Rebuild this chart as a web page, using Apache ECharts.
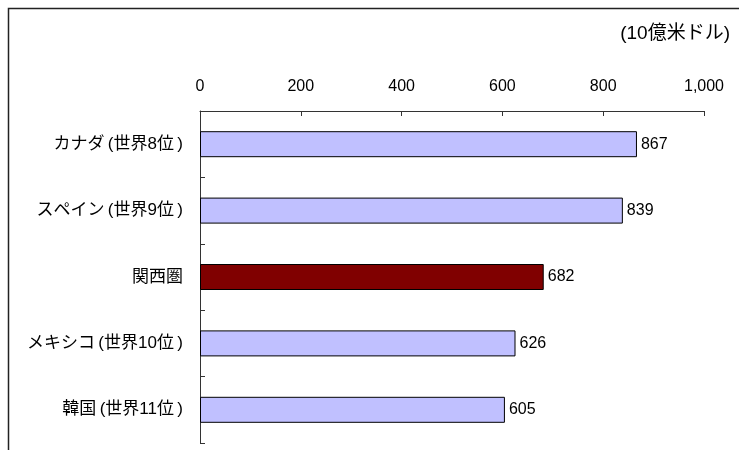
<!DOCTYPE html>
<html>
<head>
<meta charset="utf-8">
<script src="https://cdn.jsdelivr.net/npm/echarts@6/dist/echarts.min.js"></script>
<style>
  html, body { margin: 0; padding: 0; background: #fff; }
  #chart { width: 739px; height: 450px; }
</style>
</head>
<body>
<div id="chart"></div>
<script>
const categories = ["カナダ\u2009(世界8位\u2009)", "スペイン\u2009(世界9位\u2009)", "関西圏", "メキシコ\u2009(世界10位\u2009)", "韓国\u2009(世界11位\u2009)"];
const values = [867, 839, 682, 626, 605];
const highlight = "関西圏";
const xTicks = [0, 200, 400, 600, 800, 1000];

const fontFamily = '"Liberation Sans", Arial, "Noto Sans CJK JP", sans-serif';

const chart = echarts.init(document.getElementById("chart"), null, {
    width: 739,
    height: 450,
});

const barData = values.map((v, i) => ({
    value: v,
    itemStyle: {
        color: categories[i] === highlight ? "#800000" : "#C0C0FF",
    },
}));

const option = {
    animation: false,
    textStyle: { fontFamily: fontFamily },
    graphic: [
        {
            type: "rect",
            shape: { x: 8.5, y: 8.5, width: 800, height: 500 },
            style: { fill: "none", stroke: "#222", lineWidth: 1.5 },
        },
        {
            type: "text",
            right: 9,
            top: 24,
            style: {
                text: "(10億米ドル)",
                font: "19px " + fontFamily,
                fill: "#000",
            },
        },
    ],
    grid: {
        left: 200,
        right: 35,
        top: 111,
        bottom: 7,
        containLabel: false,
    },
    xAxis: {
        type: "value",
        position: "top",
        min: xTicks[0],
        max: xTicks[xTicks.length - 1],
        interval: 200,
        axisLine: { show: true, lineStyle: { color: "#333", width: 1 } },
        axisTick: { show: true, inside: true, length: 5, lineStyle: { color: "#333" } },
        axisLabel: {
            margin: 16,
            color: "#000",
            fontSize: 16,
            fontFamily: fontFamily,
            formatter: (v) => v.toLocaleString("en-US"),
        },
        splitLine: { show: false },
    },
    yAxis: {
        type: "category",
        inverse: true,
        data: categories,
        axisLine: { show: true, lineStyle: { color: "#333", width: 1 } },
        axisTick: { show: true, inside: true, length: 5, lineStyle: { color: "#333" } },
        axisLabel: {
            margin: 17,
            color: "#000",
            fontSize: 17,
            fontFamily: fontFamily,
        },
    },
    series: [
        {
            type: "bar",
            data: barData,
            barWidth: 26,
            itemStyle: { borderColor: "#000", borderWidth: 1 },
            label: {
                show: true,
                position: "right",
                distance: 4,
                color: "#000",
                fontSize: 16,
                fontFamily: fontFamily,
            },
        },
    ],
};

chart.setOption(option);
</script>
</body>
</html>
